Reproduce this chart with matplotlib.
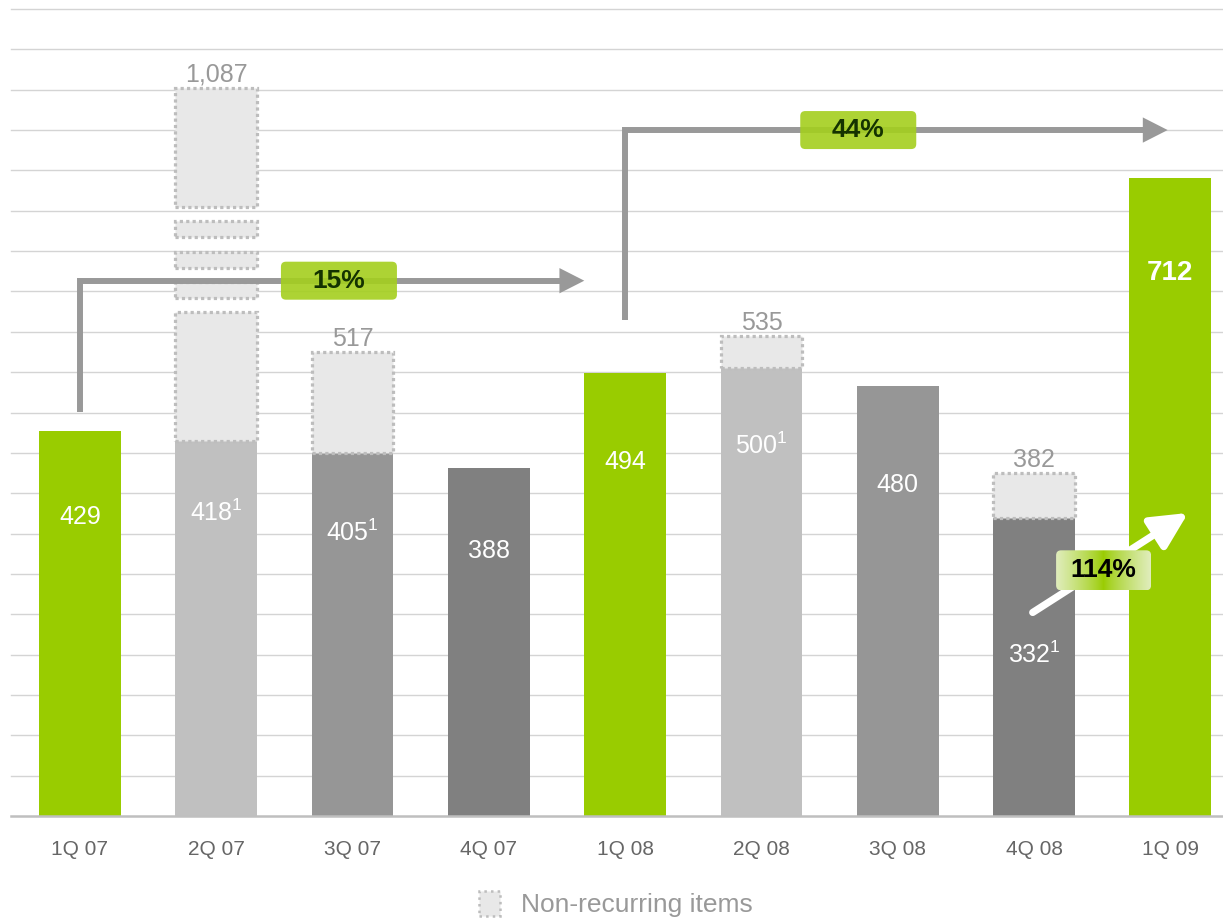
import numpy as np
import matplotlib
matplotlib.use("Agg")
import matplotlib.pyplot as plt
from matplotlib.patches import Rectangle, FancyBboxPatch, Patch

plt.rcParams['font.family'] = ['Liberation Sans', 'DejaVu Sans']
plt.rcParams['mathtext.fontset'] = 'custom'
plt.rcParams['mathtext.rm'] = 'Liberation Sans'

# quarterly results
quarters = ['1Q 07', '2Q 07', '3Q 07', '4Q 07', '1Q 08', '2Q 08', '3Q 08', '4Q 08', '1Q 09']
recurring = [429, 418, 405, 388, 494, 500, 480, 332, 712]
reported = [429, 1087, 517, 388, 494, 535, 480, 382, 712]
footnote = [False, True, True, False, False, True, False, True, False]

# growth arrows: (from quarter, to quarter)
growth_pairs = [(0, 4), (4, 8), (7, 8)]

GREEN = '#99CC00'
bar_colors = [GREEN, '#C0C0C0', '#969696', '#808080', GREEN, '#C0C0C0', '#969696', '#808080', GREEN]
NRI_FILL = '#E8E8E8'
NRI_EDGE = '#BDBDBD'
ARROW_GRAY = '#999999'

# where the value label sits inside each bar (fraction of bar height)
label_frac = [0.776, 0.81, 0.78, 0.763, 0.80, 0.826, 0.77, 0.54, 0.85]

# the tall 2Q 07 bar is cut between these values
gap_lo, gap_hi = 562, 954
gap_draw = 117


def squash(v):
    if v <= gap_lo:
        return v
    return v - (gap_hi - gap_lo) + gap_draw


W, H = 1223, 918
fig = plt.figure(figsize=(W / 100, H / 100), dpi=100)
ax_l, ax_r, ax_t, ax_b = 11, 1223, 9, 816
ax = fig.add_axes([ax_l / W, 1 - ax_b / H, (ax_r - ax_l) / W, (ax_b - ax_t) / H])
xlim = (-0.506, 8.386)
ylim = (0, 900)
ax.set_xlim(*xlim)
ax.set_ylim(*ylim)
for s in ax.spines.values():
    s.set_visible(False)
ax.set_yticks([])

# data units per pixel, used to keep rounded corners round
xdpp = (xlim[1] - xlim[0]) / (ax_r - ax_l)
ydpp = (ylim[1] - ylim[0]) / (ax_b - ax_t)
aspect = ydpp / xdpp

# gridlines
for gy in np.arange(45, 901, 45):
    ax.axhline(gy, color='#D4D4D4', lw=1.0, zorder=0, clip_on=False)
ax.axhline(0, color='#BFBFBF', lw=1.8, zorder=3, clip_on=False)

x = np.arange(len(quarters))
bw = 0.6
ax.bar(x, recurring, width=bw, color=bar_colors, zorder=2)

# non-recurring items stacked on top, with a break on the tall one
def nri_box(xc, y0, y1):
    ax.add_patch(Rectangle((xc - bw / 2, y0), bw, y1 - y0, facecolor=NRI_FILL,
                           edgecolor=NRI_EDGE, lw=2.3, linestyle=(0, (1, 1)), zorder=2))

for i in range(len(quarters)):
    if reported[i] <= recurring[i]:
        continue
    if reported[i] > gap_hi:
        nri_box(x[i], recurring[i], gap_lo)
        stub_h = 18
        sp = (gap_draw - 3 * stub_h) / 4
        for k in range(3):
            s0 = gap_lo + sp + k * (stub_h + sp)
            nri_box(x[i], s0, s0 + stub_h)
        nri_box(x[i], squash(gap_hi), squash(reported[i]))
    else:
        nri_box(x[i], recurring[i], reported[i])
    ax.text(x[i], squash(reported[i]) + 7, f"{reported[i]:,}", ha='center', va='baseline',
            fontsize=18, color='#999999', zorder=5)

# values inside the bars
for i, v in enumerate(recurring):
    if footnote[i]:
        txt = r'$\mathregular{' + str(v) + '^1}$'
    else:
        txt = str(v)
    bold = i == len(quarters) - 1
    ax.text(x[i], v * label_frac[i], txt, ha='center', va='center', color='white',
            fontsize=20 if bold else 18, fontweight='bold' if bold else 'normal', zorder=5)

ax.set_xticks(x)
ax.set_xticklabels(quarters, fontsize=15, color='#666666')
ax.tick_params(axis='x', length=0, pad=17)


def growth(a, b):
    return f"{round((recurring[b] / recurring[a] - 1) * 100)}%"


def label_box(xc, yc, w_px, h_px, text, color, txtcolor, gradient=False):
    w, h = w_px * xdpp, h_px * ydpp
    box = FancyBboxPatch((xc - w / 2, yc - h / 2), w, h,
                         boxstyle=f"round,pad=0,rounding_size={5 * xdpp}",
                         mutation_aspect=aspect, facecolor=color if not gradient else 'none',
                         edgecolor='none', alpha=0.9 if not gradient else 1, zorder=6)
    ax.add_patch(box)
    if gradient:
        t = np.abs(np.linspace(-1, 1, 200))
        light = np.array([0.88, 0.93, 0.74])
        dark = np.array([0.60, 0.80, 0.0])
        mix = np.clip(t ** 0.8, 0, 1)[:, None]
        row = dark * (1 - mix) + light * mix
        img = np.repeat(row[None, :, :], 2, axis=0)
        im = ax.imshow(img, extent=(xc - w / 2, xc + w / 2, yc - h / 2, yc + h / 2),
                       aspect='auto', zorder=6, interpolation='bilinear')
        im.set_clip_path(box)
    ax.text(xc, yc, text, ha='center', va='center', fontsize=19, fontweight='bold',
            color=txtcolor, zorder=7)


# elbow arrows for year-on-year growth
elbows = [
    # start x, start y, level, tip x, label x
    (0.0, 450, 597, 3.70, 1.90),
    (4.0, 553, 765, 7.98, 5.71),
]
for (a, b), (sx, sy, lvl, tx, lx) in zip(growth_pairs[:2], elbows):
    ax.annotate('', xy=(tx, lvl), xytext=(sx, sy),
                arrowprops=dict(arrowstyle='-|>,head_length=0.55,head_width=0.28',
                                connectionstyle='angle,angleA=90,angleB=0,rad=0',
                                mutation_scale=20, lw=4.3, color=ARROW_GRAY,
                                joinstyle='miter', capstyle='butt',
                                shrinkA=0, shrinkB=0), zorder=4)
    label_box(lx, lvl, 116, 38, growth(a, b), '#A4CF1E', '#143300')

# quarter-on-quarter arrow
a, b = growth_pairs[2]
ax.annotate('', xy=(8.13, 338), xytext=(6.99, 227),
            arrowprops=dict(arrowstyle='-|>,head_length=1.1,head_width=0.55',
                            mutation_scale=20, lw=5.2, color='white',
                            shrinkA=0, shrinkB=0), zorder=5)
label_box(7.51, 274, 95, 40, growth(a, b), GREEN, 'black', gradient=True)

# legend
handle = Patch(facecolor=NRI_FILL, edgecolor=NRI_EDGE, linestyle=':', lw=1.8)
fig.legend([handle], ['Non-recurring items'], loc='center',
           bbox_to_anchor=(616 / W, 1 - 904 / H), frameon=False, fontsize=19,
           labelcolor='#999999', handlelength=0.8, handleheight=1.1, handletextpad=0.8)

fig.savefig('out.png', dpi=100)
